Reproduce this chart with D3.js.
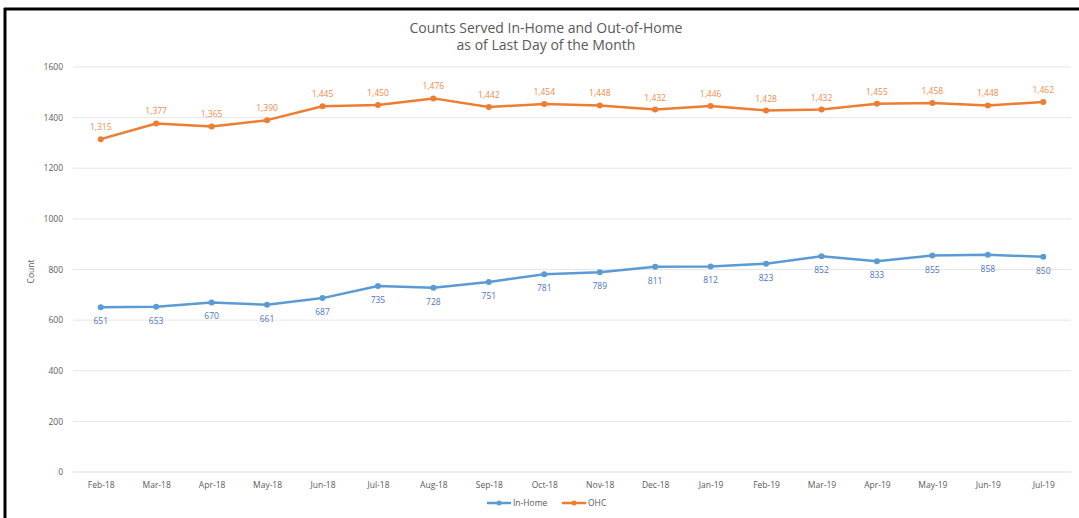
<!DOCTYPE html>
<html>
<head>
<meta charset="utf-8">
<script src="https://cdn.jsdelivr.net/npm/d3@7"></script>
<style>
  html, body { margin: 0; padding: 0; background: #fff; }
  svg { display: block; }
  text { font-family: "Open Sans", "Noto Sans", sans-serif; }
</style>
</head>
<body>
<svg id="chart" width="1079" height="518"></svg>
<script>
const months = ["Feb-18","Mar-18","Apr-18","May-18","Jun-18","Jul-18","Aug-18","Sep-18","Oct-18",
                "Nov-18","Dec-18","Jan-19","Feb-19","Mar-19","Apr-19","May-19","Jun-19","Jul-19"];
const inHome = [651,653,670,661,687,735,728,751,781,789,811,812,823,852,833,855,858,850];
const ohc = [1315,1377,1365,1390,1445,1450,1476,1442,1454,1448,1432,1446,1428,1432,1455,1458,1448,1462];
const yTicks = [0,200,400,600,800,1000,1200,1400,1600];
const titleLines = ["Counts Served In-Home and Out-of-Home", "as of Last Day of the Month"];

const svg = d3.select("#chart");

// frame border (top and left edges)
svg.append("rect").attr("x", 0).attr("y", 0).attr("width", 1079).attr("height", 518).attr("fill", "#fff");
svg.append("line").attr("x1", 4).attr("x2", 1079).attr("y1", 9).attr("y2", 9)
  .attr("stroke", "#000").attr("stroke-width", 3);
svg.append("line").attr("x1", 5).attr("x2", 5).attr("y1", 8).attr("y2", 518)
  .attr("stroke", "#000").attr("stroke-width", 3);

const plot = { left: 73, right: 1071, top: 67, bottom: 472 };

const x = d3.scalePoint().domain(months).range([plot.left, plot.right]).padding(0.5);
const y = d3.scaleLinear().domain([0, 1600]).range([plot.bottom, plot.top]);

// gridlines
svg.append("g").selectAll("line").data(yTicks).join("line")
  .attr("x1", plot.left).attr("x2", plot.right)
  .attr("y1", d => y(d)).attr("y2", d => y(d))
  .attr("stroke", d => d === 0 ? "#d9d9d9" : "#e6e6e6").attr("stroke-width", 1);

// y axis labels
const yAxis = d3.axisLeft(y).tickValues(yTicks).tickSize(0).tickPadding(10).tickFormat(d3.format("d"));
const gy = svg.append("g").attr("transform", `translate(${plot.left},0)`).call(yAxis);
gy.select(".domain").remove();
gy.selectAll("text").attr("fill", "#595959").style("font-size", "8.5px");

// x axis labels
const xAxis = d3.axisBottom(x).tickSize(0).tickPadding(10);
const gx = svg.append("g").attr("transform", `translate(0,${plot.bottom})`).call(xAxis);
gx.select(".domain").remove();
gx.selectAll("text").attr("fill", "#595959").style("font-size", "8.5px");

// y axis title
svg.append("text").attr("transform", `translate(34,${(plot.top + plot.bottom) / 2 + 2}) rotate(-90)`)
  .attr("text-anchor", "middle").attr("fill", "#595959").style("font-size", "8.5px").text("Count");

// title
svg.append("text").attr("x", 546).attr("y", 33).attr("text-anchor", "middle")
  .attr("fill", "#595959").style("font-size", "14px")
  .selectAll("tspan").data(titleLines).join("tspan")
  .attr("x", 546).attr("dy", (d, i) => i === 0 ? 0 : 17).text(d => d);

const series = [
  { name: "In-Home", values: inHome, color: "#5B9BD5", labelColor: "#4a74c4", dy: 17 },
  { name: "OHC", values: ohc, color: "#ED7D31", labelColor: "#ee8a4a", dy: -9 }
];

const line = d3.line().x((d, i) => x(months[i])).y(d => y(d));
const fmt = d3.format(",");

series.forEach(s => {
  const g = svg.append("g");
  g.append("path").datum(s.values).attr("d", line)
    .attr("fill", "none").attr("stroke", s.color).attr("stroke-width", 2.5)
    .attr("stroke-linejoin", "round");
  g.selectAll("circle").data(s.values).join("circle")
    .attr("cx", (d, i) => x(months[i])).attr("cy", d => y(d)).attr("r", 3)
    .attr("fill", s.color);
  g.selectAll("text").data(s.values).join("text")
    .attr("x", (d, i) => x(months[i])).attr("y", d => y(d) + s.dy)
    .attr("text-anchor", "middle").attr("fill", s.labelColor).style("font-size", "8.5px")
    .text(d => fmt(d));
});

// legend
const legend = svg.append("g").attr("transform", "translate(487,503)");
series.forEach((s, i) => {
  const lg = legend.append("g").attr("transform", `translate(${i * 75},0)`);
  lg.append("line").attr("x1", 0).attr("x2", 24).attr("y1", 0).attr("y2", 0)
    .attr("stroke", s.color).attr("stroke-width", 2.5);
  lg.append("circle").attr("cx", 12).attr("cy", 0).attr("r", 2.5).attr("fill", s.color);
  lg.append("text").attr("x", 26).attr("y", 3).attr("fill", "#595959")
    .style("font-size", "8.5px").text(s.name);
});
</script>
</body>
</html>
